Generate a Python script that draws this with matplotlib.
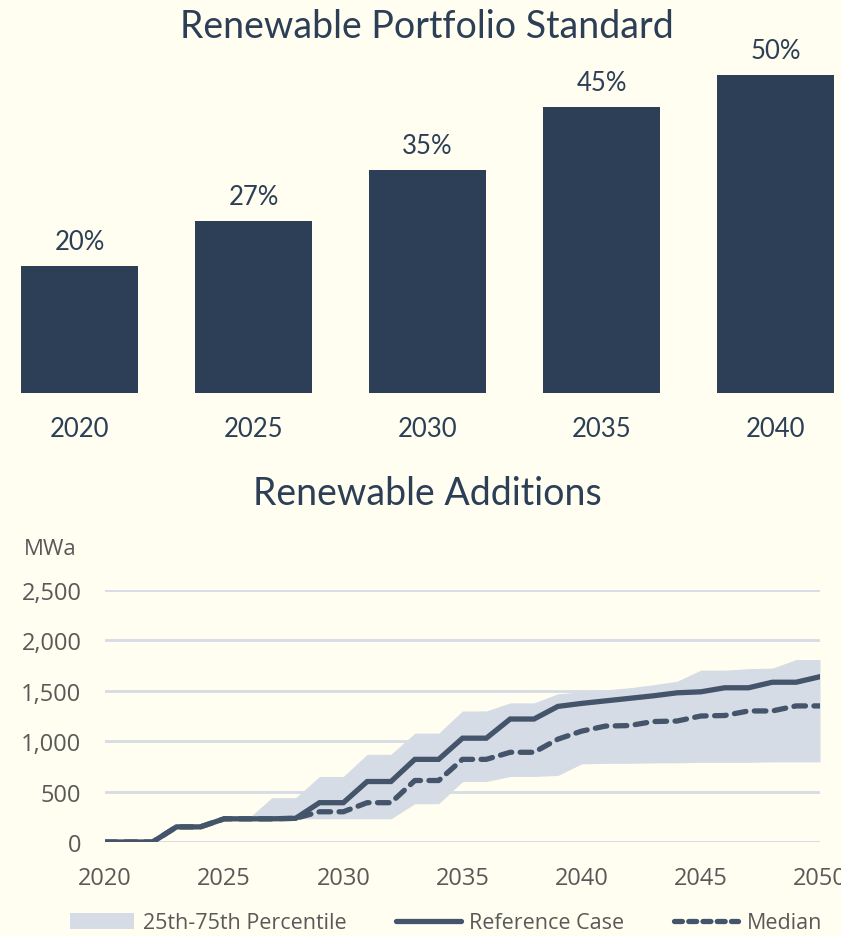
import matplotlib
matplotlib.use("Agg")
from matplotlib import pyplot as plt
from matplotlib.patches import Patch
from matplotlib.lines import Line2D
from matplotlib.ticker import FuncFormatter

# --- data -------------------------------------------------------------
rps_years = ["2020", "2025", "2030", "2035", "2040"]
rps_pct = [20, 27, 35, 45, 50]

years = list(range(2020, 2051))
reference = [0, 0, 0, 150, 150, 230, 230, 230, 235, 390, 390, 600, 600, 820, 820,
             1030, 1030, 1220, 1220, 1345, 1375, 1400, 1425, 1450, 1480, 1490,
             1530, 1530, 1585, 1585, 1640]
median = [0, 0, 0, 150, 150, 230, 230, 230, 235, 300, 300, 390, 390, 610, 610,
          820, 820, 890, 890, 1020, 1100, 1150, 1155, 1195, 1200, 1250,
          1255, 1300, 1300, 1350, 1350]
p75 = [0, 0, 0, 150, 150, 230, 230, 440, 440, 650, 650, 870, 870, 1080, 1080,
       1300, 1300, 1380, 1380, 1470, 1490, 1510, 1530, 1560, 1595, 1705,
       1705, 1720, 1725, 1810, 1810]
p25 = [0, 0, 0, 150, 150, 230, 230, 230, 230, 230, 230, 230, 230, 380, 380,
       600, 600, 650, 650, 660, 775, 780, 780, 785, 785, 790,
       790, 790, 795, 795, 795]

# --- style ------------------------------------------------------------
BG = "#FFFEF0"
NAVY = "#2C3F57"
LINE = "#44546A"
BAND = "#D6DCE5"
GREY = "#595959"
W, H = 841, 937

plt.rcParams["font.family"] = ["Open Sans", "DejaVu Sans"]

fig = plt.figure(figsize=(W / 100, H / 100), dpi=100, facecolor=BG)


def px_axes(left, top, right, bottom):
    return fig.add_axes([left / W, 1 - bottom / H, (right - left) / W, (bottom - top) / H])


# --- top: bar chart -----------------------------------------------------
ax1 = px_axes(0, 40, W, 394)
ax1.set_facecolor(BG)
xs = range(len(rps_pct))
ax1.bar(xs, rps_pct, width=0.667, color=NAVY)
ax1.set_xlim((0 - 79.5) / 174, (W - 79.5) / 174)
ax1.set_ylim(0, (394 - 40) / 6.36)
ax1.axis("off")
for i, v in zip(xs, rps_pct):
    ax1.annotate(f"{v}%", xy=(i, v), xytext=(0, 17), textcoords="offset pixels",
                 ha="center", va="baseline", fontsize=18.5, color=NAVY, family="Lato")
    ax1.annotate(rps_years[i], xy=(i, 0), xytext=(0, -43), textcoords="offset pixels",
                 ha="center", va="baseline", fontsize=18.5, color=NAVY, family="Lato")

fig.text(427 / W, 1 - 38 / H, "Renewable Portfolio Standard", ha="center", va="baseline",
         fontsize=27, color=NAVY, family="Lato")

# --- bottom: line chart -------------------------------------------------
ax2 = px_axes(105, 591, 820, 843)
ax2.set_facecolor(BG)
ax2.fill_between(years, p25, p75, color=BAND, linewidth=0, zorder=2)
ax2.plot(years, reference, color=LINE, linewidth=3.8, solid_capstyle="round",
         solid_joinstyle="miter", zorder=4)
ax2.plot(years, median, color=LINE, linewidth=3.8, linestyle=(0, (2.2, 1.6)),
         dash_capstyle="round", zorder=3)
ax2.set_xlim(2020, 2050)
ax2.set_ylim(0, 2500)
ax2.set_xticks(range(2020, 2051, 5))
ax2.set_yticks(range(0, 2501, 500))
ax2.yaxis.set_major_formatter(FuncFormatter(lambda v, p: f"{int(v):,}"))
ax2.grid(axis="y", color=BAND, linewidth=2, zorder=1)
for s in ax2.spines.values():
    s.set_visible(False)
ax2.tick_params(length=0, labelsize=17, colors=GREY)
ax2.tick_params(axis="y", pad=17)
ax2.tick_params(axis="x", pad=17)
ax2.axhline(0, color="#D9D9D9", linewidth=2, zorder=1)

fig.text(24 / W, 1 - 555 / H, "MWa", ha="left", va="baseline", fontsize=16, color=GREY)
fig.text(427 / W, 1 - 505 / H, "Renewable Additions", ha="center", va="baseline",
         fontsize=27, color=NAVY, family="Lato")

handles = [
    Patch(facecolor=BAND, edgecolor="none"),
    Line2D([], [], color=LINE, linewidth=3.8, solid_capstyle="round"),
    Line2D([], [], color=LINE, linewidth=3.8, linestyle=(0, (1.5, 1.2)), dash_capstyle="round"),
]
labels = ["25th-75th Percentile", "Reference Case", "Median"]
fig.legend(handles, labels, loc="center", bbox_to_anchor=(446 / W, 1 - 924 / H), ncol=3,
           frameon=False, fontsize=15.5, labelcolor=GREY, handlelength=3.0,
           handleheight=0.7, handletextpad=0.4, columnspacing=2.3)

fig.savefig("out.png", dpi=100, facecolor=BG)
